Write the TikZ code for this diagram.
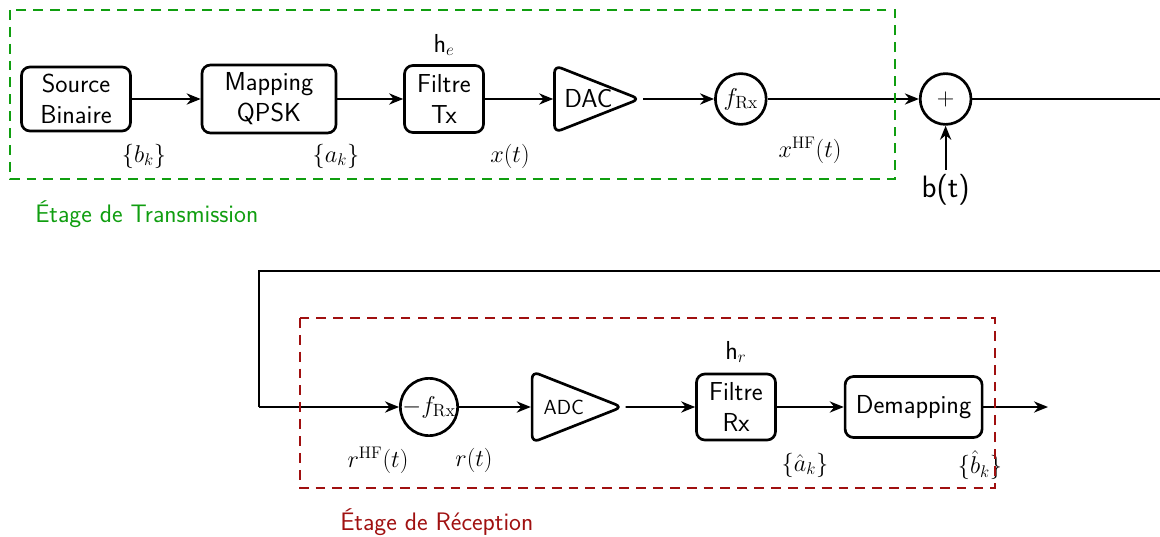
\documentclass[tikz,border=0pt]{standalone}
\usepackage{fontspec}
\usepackage{amsmath}
\usetikzlibrary{arrows.meta,shapes.geometric}
\definecolor{txgreen}{RGB}{16,158,16}
\definecolor{rxred}{RGB}{160,16,16}

\begin{document}
\begin{tikzpicture}[
  every node/.style={font=\fontsize{18.5}{22}\selectfont\sffamily},
  blk/.style={draw, line width=1.9pt, rounded corners=6pt, align=center, inner sep=0pt},
  mixer/.style={draw, circle, line width=1.9pt, minimum size=1.27cm, inner sep=0pt, font=\fontsize{18}{20}\selectfont},
  conv/.style={draw, isosceles triangle, isosceles triangle stretches, line width=1.9pt, rounded corners=5pt, inner sep=0pt, anchor=apex},
  sig/.style={line width=1.4pt, -{Stealth[length=10pt,width=8pt]}},
  lbl/.style={font=\fontsize{17}{20}\selectfont},
  stage/.style={line width=2pt, dash pattern=on 7pt off 5pt}
]
  \useasboundingbox (0,0) rectangle (29,-13.425);

  % emission chain
  \node[blk, minimum width=2.725cm, minimum height=1.6cm] (src) at (1.9,-2.475) {Source\\Binaire};
  \node[blk, minimum width=3.35cm, minimum height=1.7cm] (map) at (6.725,-2.475) {Mapping\\QPSK};
  \node[blk, minimum width=1.975cm, minimum height=1.675cm] (ftx) at (11.1,-2.475) {Filtre\\Tx};
  \node[conv, minimum width=1.675cm, minimum height=2.125cm] (dac) at (16.075,-2.475) {\kern6pt DAC};
  \node[mixer] (mixA) at (18.52,-2.475) {$f_{\mathrm{Rx}}$};
  \node[mixer] (plus) at (23.64,-2.475) {$+$};
  \node[font=\fontsize{22}{24}\selectfont\sffamily] (noise) at (23.64,-4.75) {b(t)};

  \foreach \a/\b in {src/map,map/ftx,ftx/dac,dac/mixA,mixA/plus}
    \draw[sig] (\a) -- (\b);
  \draw[sig] (noise) -- (plus);

  \node (he) at (11.1,-1.125) {h$_e$};
  \node[lbl] (bk) at (3.6,-3.9) {$\{b_k\}$};
  \node[lbl] (ak) at (8.4,-3.9) {$\{a_k\}$};
  \node[lbl] (xt) at (12.75,-3.9) {$x(t)$};
  \node[lbl] (xhf) at (20.25,-3.75) {$x^{\mathrm{HF}}(t)$};

  \draw[stage, txgreen] (0.25,-0.25) rectangle (22.375,-4.475);
  \node[anchor=west, inner sep=0pt, text=txgreen, font=\fontsize{18}{22}\selectfont\sffamily] (txname) at (0.875,-5.35) {Étage de Transmission};

  % channel: back to the receiver (vertical part falls off the page)
  \coordinate (ret1) at (29.6,-2.475);
  \coordinate (ret2) at (29.6,-6.775);
  \coordinate (ret3) at (6.475,-6.775);
  \coordinate (ret4) at (6.475,-10.175);

  % reception chain
  \node[mixer] (mixB) at (10.725,-10.175) {$-f_{\mathrm{Rx}}$};
  \node[conv, minimum width=1.775cm, minimum height=2.25cm, font=\fontsize{14.5}{16}\selectfont\sffamily] (adc) at (15.64,-10.175) {\kern3pt ADC};
  \node[blk, minimum width=1.975cm, minimum height=1.65cm] (frx) at (18.4,-10.175) {Filtre\\Rx};
  \node[blk, minimum width=3.425cm, minimum height=1.525cm] (demap) at (22.84,-10.175) {Demapping};
  \coordinate (out) at (26.2,-10.175);

  \draw[line width=1.4pt] (plus) -- (ret1) -- (ret2) -- (ret3) -- (ret4);
  \draw[sig] (ret4) -- (mixB);
  \foreach \a/\b in {mixB/adc,adc/frx,frx/demap,demap/out}
    \draw[sig] (\a) -- (\b);

  \node (hr) at (18.4,-8.8) {h$_r$};
  \node[lbl] (rhf) at (9.45,-11.5) {$r^{\mathrm{HF}}(t)$};
  \node[lbl] (rt) at (11.85,-11.5) {$r(t)$};
  \node[lbl] (akh) at (20.125,-11.625) {$\{\hat{a}_k\}$};
  \node[lbl] (bkh) at (24.5,-11.625) {$\{\hat{b}_k\}$};

  \draw[stage, rxred] (7.5,-7.95) rectangle (24.875,-12.2);
  \node[anchor=west, inner sep=0pt, text=rxred, font=\fontsize{18}{22}\selectfont\sffamily] (rxname) at (8.5,-13.05) {Étage de Réception};
\end{tikzpicture}
\end{document}
